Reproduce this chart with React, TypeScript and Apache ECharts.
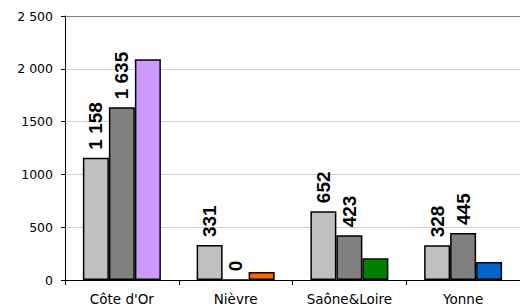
import React, { useEffect, useRef } from "react";
import * as echarts from "echarts";

const categories = ["Côte d'Or", "Nièvre", "Saône&Loire", "Yonne"];
const seriesA = [1158, 331, 652, 328];
const seriesB = [1635, 0, 423, 445];
const seriesC = [2090, 75, 205, 170];
const seriesCColors = ["#CC99FF", "#FF6600", "#008000", "#0066CC"];
const yTicks = [0, 500, 1000, 1500, 2000, 2500];
const yTickLabels = ["0", "500", "1000", "1500", "2 000", "2 500"];

const fmt = (v: number) => {
  const s = String(Math.round(v));
  return s.replace(/\B(?=(\d{3})+(?!\d))/g, " ");
};

export default function App() {
  const ref = useRef<HTMLDivElement>(null);
  useEffect(() => {
    if (!ref.current) return;
    const chart = echarts.init(ref.current, null, { renderer: "svg" });
    const font = "'Liberation Sans', Arial, sans-serif";
    const axisFont = "'DejaVu Sans', Verdana, sans-serif";
    const labelCfg = {
      show: true,
      position: "top" as const,
      rotate: 90,
      align: "left" as const,
      verticalAlign: "middle" as const,
      distance: 8,
      color: "#000",
      fontWeight: "bold" as const,
      fontSize: 19,
      fontFamily: font,
      formatter: (p: any) => fmt(p.value),
    };
    chart.setOption({
      animation: false,
      backgroundColor: "#fff",
      grid: {
        left: 65,
        top: 16,
        width: 459,
        height: 264,
      },
      xAxis: {
        type: "category",
        data: categories,
        axisLine: { lineStyle: { color: "#000", width: 1 } },
        axisTick: { show: true, length: 5, lineStyle: { color: "#000" } },
        axisLabel: {
          color: "#000",
          fontSize: 13.5,
          fontFamily: axisFont,
          margin: 12,
        },
      },
      yAxis: {
        type: "value",
        min: 0,
        max: 2500,
        interval: 500,
        axisLine: { show: true, lineStyle: { color: "#000", width: 1 } },
        axisTick: { show: true, length: 4, lineStyle: { color: "#000" } },
        splitLine: {
          show: true,
          lineStyle: {
            color: ["#d0d0d0", "#d0d0d0", "#d0d0d0", "#d0d0d0", "#d0d0d0", "#808080"],
            width: 1,
          },
        },
        axisLabel: {
          color: "#000",
          fontSize: 12.5,
          fontFamily: axisFont,
          margin: 12,
          formatter: (v: number) => {
            const i = yTicks.indexOf(v);
            return i >= 0 ? yTickLabels[i] : String(v);
          },
        },
      },
      series: [
        {
          type: "bar",
          data: seriesA,
          barWidth: 26,
          barGap: "0%",
          itemStyle: { color: "#C0C0C0", borderColor: "#000", borderWidth: 1.5 },
          label: labelCfg,
        },
        {
          type: "bar",
          data: seriesB,
          barWidth: 26,
          barGap: "0%",
          itemStyle: { color: "#808080", borderColor: "#000", borderWidth: 1.5 },
          label: labelCfg,
        },
        {
          type: "bar",
          data: seriesC.map((v, i) => ({
            value: v,
            itemStyle: { color: seriesCColors[i] },
          })),
          barWidth: 26,
          barGap: "0%",
          itemStyle: { borderColor: "#000", borderWidth: 1.5 },
        },
      ],
    });
    return () => chart.dispose();
  }, []);
  return (
    <div
      ref={ref}
      style={{ position: "absolute", left: 0, top: 0, width: 520, height: 308 }}
    />
  );
}
